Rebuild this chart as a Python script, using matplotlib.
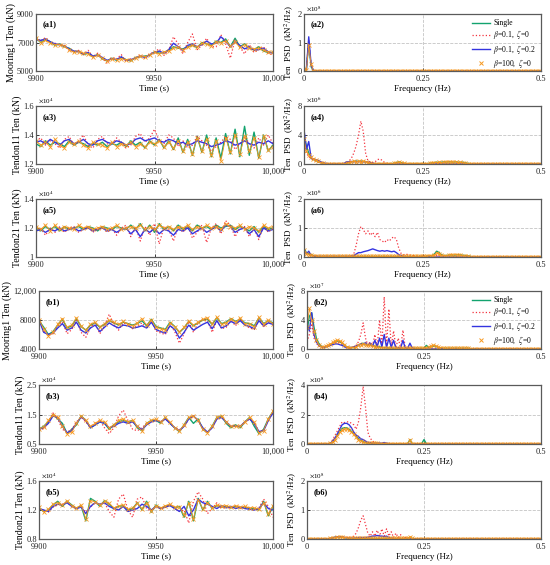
import matplotlib
matplotlib.use("Agg")
import matplotlib.pyplot as plt
from matplotlib.lines import Line2D
import numpy as np

plt.rcParams['font.family'] = 'Liberation Serif'
plt.rcParams['mathtext.fontset'] = 'stix'

# ---- time histories (every ~2 s) ----
a1_single = [7300, 7000, 7200, 7050, 6800, 6900, 6700, 6600, 6350, 6400, 6150, 6250, 6000, 6150, 5850, 5700, 5900, 5750, 5950, 5800,
             5700, 5950, 6000, 6050, 6100, 6350, 6250, 6300, 6450, 6700, 6600, 6550, 6700, 6800, 6650, 7000, 6900, 6800, 7100, 7000,
             7250, 6700, 7300, 6700, 6900, 6600, 6500, 6700, 6400, 6300, 6300]
a1_b01z0 = [7350, 7100, 7350, 7000, 6950, 6800, 6800, 6450, 6350, 6450, 6150, 6450, 6000, 6250, 5900, 5550, 5950, 5850, 6150, 5650,
            5850, 5900, 6150, 5850, 6200, 6350, 6550, 6100, 6450, 7400, 6900, 6200, 7000, 7600, 6500, 6800, 7300, 6700, 6700, 7550,
            6900, 5900, 7200, 6700, 6200, 6850, 6300, 6500, 6700, 6200, 6150]
a1_b01z02 = [7200, 7150, 7250, 7050, 6900, 6850, 6750, 6550, 6400, 6350, 6200, 6300, 6050, 6100, 5950, 5750, 5850, 5800, 6000, 5750,
             5800, 5900, 6050, 5950, 6150, 6300, 6400, 6250, 6500, 6950, 6700, 6450, 6800, 6900, 6700, 6850, 7100, 6900, 6950, 7400,
             7100, 6700, 7050, 6800, 6550, 6700, 6450, 6500, 6600, 6350, 6250]
a1_b100 = [7350, 7000, 7150, 6950, 6850, 6850, 6750, 6500, 6300, 6350, 6250, 6200, 5950, 6100, 5900, 5700, 5850, 5800, 5850, 5800,
           5750, 5900, 6050, 6000, 6150, 6300, 6200, 6350, 6400, 6600, 6650, 6500, 6650, 6800, 6700, 6950, 6900, 6750, 7050, 7000,
           7100, 6750, 7050, 6650, 6850, 6600, 6550, 6600, 6450, 6350, 6300]

a3_single = [1.34, 1.32, 1.36, 1.33, 1.35, 1.34, 1.32, 1.36, 1.33, 1.35, 1.34, 1.32, 1.34, 1.33, 1.35, 1.32, 1.34, 1.33, 1.35, 1.32,
             1.36, 1.33, 1.35, 1.31, 1.36, 1.33, 1.37, 1.31, 1.36, 1.30, 1.38, 1.28, 1.37, 1.26, 1.39, 1.28, 1.40, 1.25, 1.38, 1.24,
             1.41, 1.27, 1.44, 1.25, 1.46, 1.26, 1.42, 1.24, 1.40, 1.29, 1.33]
a3_b01z0 = [1.36, 1.38, 1.33, 1.36, 1.34, 1.31, 1.37, 1.39, 1.33, 1.36, 1.40, 1.33, 1.31, 1.37, 1.39, 1.34, 1.33, 1.38, 1.35, 1.31,
            1.33, 1.39, 1.41, 1.35, 1.38, 1.44, 1.36, 1.34, 1.40, 1.38, 1.32, 1.36, 1.31, 1.33, 1.39, 1.36, 1.33, 1.29, 1.32, 1.35,
            1.39, 1.37, 1.30, 1.34, 1.39, 1.34, 1.31, 1.38, 1.33, 1.40, 1.34]
a3_b01z02 = [1.35, 1.36, 1.34, 1.37, 1.35, 1.33, 1.36, 1.37, 1.34, 1.35, 1.37, 1.34, 1.33, 1.36, 1.37, 1.35, 1.34, 1.36, 1.35, 1.33,
             1.34, 1.37, 1.38, 1.36, 1.37, 1.38, 1.36, 1.35, 1.37, 1.36, 1.34, 1.35, 1.33, 1.34, 1.36, 1.35, 1.34, 1.32, 1.33, 1.34,
             1.36, 1.35, 1.33, 1.34, 1.36, 1.34, 1.33, 1.35, 1.34, 1.36, 1.34]
a3_b100 = [1.36, 1.33, 1.35, 1.32, 1.37, 1.33, 1.31, 1.35, 1.34, 1.36, 1.33, 1.31, 1.35, 1.34, 1.33, 1.31, 1.35, 1.32, 1.34, 1.33,
           1.35, 1.32, 1.34, 1.32, 1.35, 1.34, 1.36, 1.32, 1.35, 1.31, 1.36, 1.29, 1.35, 1.27, 1.38, 1.29, 1.37, 1.26, 1.36, 1.22,
           1.38, 1.28, 1.40, 1.27, 1.39, 1.29, 1.38, 1.25, 1.39, 1.30, 1.32]

a5_single = [1.20, 1.18, 1.21, 1.19, 1.21, 1.18, 1.21, 1.19, 1.20, 1.21, 1.19, 1.21, 1.20, 1.18, 1.21, 1.20, 1.19, 1.21, 1.20, 1.19,
             1.22, 1.19, 1.23, 1.18, 1.22, 1.17, 1.23, 1.19, 1.21, 1.18, 1.22, 1.19, 1.21, 1.18, 1.22, 1.20, 1.21, 1.19, 1.22, 1.20,
             1.21, 1.22, 1.19, 1.21, 1.20, 1.18, 1.21, 1.17, 1.21, 1.19, 1.20]
a5_b01z0 = [1.17, 1.20, 1.15, 1.20, 1.17, 1.21, 1.17, 1.20, 1.21, 1.17, 1.19, 1.21, 1.17, 1.20, 1.21, 1.17, 1.20, 1.15, 1.20, 1.22,
            1.14, 1.21, 1.11, 1.21, 1.15, 1.23, 1.09, 1.21, 1.19, 1.11, 1.21, 1.17, 1.22, 1.13, 1.17, 1.22, 1.10, 1.20, 1.23, 1.16,
            1.25, 1.22, 1.14, 1.20, 1.21, 1.14, 1.20, 1.12, 1.22, 1.17, 1.20]
a5_b01z02 = [1.18, 1.19, 1.17, 1.19, 1.18, 1.20, 1.18, 1.19, 1.20, 1.18, 1.19, 1.20, 1.18, 1.19, 1.20, 1.18, 1.19, 1.17, 1.19, 1.20,
             1.16, 1.19, 1.14, 1.19, 1.17, 1.20, 1.16, 1.19, 1.18, 1.15, 1.19, 1.18, 1.20, 1.16, 1.18, 1.20, 1.17, 1.19, 1.21, 1.18,
             1.22, 1.21, 1.17, 1.19, 1.20, 1.16, 1.19, 1.14, 1.20, 1.18, 1.19]
a5_b100 = [1.21, 1.19, 1.22, 1.18, 1.22, 1.19, 1.21, 1.20, 1.19, 1.22, 1.20, 1.21, 1.19, 1.20, 1.21, 1.19, 1.20, 1.22, 1.19, 1.20,
           1.21, 1.20, 1.22, 1.19, 1.21, 1.19, 1.22, 1.20, 1.21, 1.19, 1.21, 1.20, 1.22, 1.19, 1.21, 1.20, 1.22, 1.20, 1.21, 1.19,
           1.23, 1.21, 1.20, 1.22, 1.19, 1.21, 1.20, 1.18, 1.22, 1.20, 1.21]

b1_single = [7900, 7000, 6000, 6400, 7300, 8100, 6900, 7200, 8200, 7100, 6600, 7300, 7600, 7000, 7400, 7900, 7600, 7300, 7700, 7500,
             7300, 7500, 7900, 7200, 8100, 7100, 6900, 6700, 7700, 7100, 6300, 6900, 7800, 7200, 7600, 8000, 8100, 7400, 8300, 7500,
             7700, 8200, 7800, 8100, 7600, 7500, 7200, 8300, 7500, 7900, 7600]
b1_b01z0 = [8100, 6500, 5900, 6100, 7200, 7800, 6100, 6700, 8000, 6300, 5600, 7000, 7600, 6100, 7200, 8800, 7400, 6600, 7600, 7400,
            6800, 7200, 7600, 6800, 7900, 6500, 6200, 6000, 7400, 6400, 4800, 6100, 7800, 6300, 7600, 8100, 7900, 6300, 8000, 6800,
            7000, 8000, 7200, 8200, 7300, 6900, 6700, 8100, 7100, 7700, 7500]
b1_b01z02 = [8000, 6300, 6000, 6200, 6900, 7500, 6600, 6900, 7700, 6600, 6200, 6900, 7300, 6400, 7000, 7600, 7200, 6900, 7300, 7200,
             6900, 7000, 7200, 6900, 7700, 6700, 6400, 6200, 7200, 6700, 5500, 6300, 7300, 6600, 7000, 7400, 7700, 6800, 7900, 6900,
             7200, 7800, 7500, 7900, 7300, 7100, 6800, 7900, 7200, 7600, 7400]
b1_b100 = [8000, 6800, 5800, 6300, 7400, 8200, 7000, 7300, 8300, 7200, 6600, 7400, 7700, 7100, 7500, 8000, 7700, 7400, 7800, 7400,
           7200, 7600, 8200, 7300, 8000, 7000, 6800, 6600, 7600, 7100, 6400, 7000, 7900, 7300, 7700, 8100, 8300, 7500, 8400, 7400,
           7600, 8200, 7700, 8300, 7500, 7400, 7100, 8400, 7400, 8000, 7500]

b3_single = [1.00, 1.10, 1.25, 1.50, 1.35, 1.20, 0.85, 1.00, 1.15, 1.45, 1.30, 1.05, 1.15, 1.25, 1.20, 1.00, 1.15, 1.25, 1.30, 1.25,
             1.30, 1.05, 0.95, 1.20, 1.30, 1.30, 1.20, 1.40, 1.20, 1.05, 0.92, 1.15, 1.40, 1.20, 1.35, 1.00, 0.88, 1.10, 1.40, 1.45,
             1.20, 1.05, 1.15, 1.05, 1.25, 1.40, 1.10, 0.85, 1.00, 1.35, 1.60]
b3_b01z0 = [1.05, 1.00, 1.25, 1.55, 1.35, 1.00, 0.90, 1.00, 1.25, 1.40, 1.25, 1.05, 1.20, 1.30, 1.05, 0.85, 1.05, 1.45, 1.65, 1.30,
            1.00, 0.95, 1.05, 1.20, 1.25, 1.30, 1.25, 1.35, 1.20, 1.05, 0.98, 1.10, 1.35, 1.45, 1.30, 1.00, 0.88, 1.05, 1.35, 1.40,
            1.25, 1.10, 1.10, 1.10, 1.25, 1.35, 1.20, 0.92, 0.95, 1.30, 1.60]
b3_b01z02 = [1.00, 1.05, 1.20, 1.45, 1.40, 1.10, 0.88, 0.95, 1.20, 1.42, 1.30, 1.05, 1.15, 1.25, 1.20, 1.05, 1.10, 1.20, 1.25, 1.20,
             1.25, 1.10, 0.98, 1.15, 1.25, 1.30, 1.25, 1.35, 1.20, 1.05, 0.95, 1.10, 1.35, 1.45, 1.30, 1.05, 0.90, 1.05, 1.35, 1.40,
             1.25, 1.10, 1.10, 1.10, 1.25, 1.35, 1.20, 0.92, 0.95, 1.30, 1.55]
b3_b100 = [1.00, 1.08, 1.30, 1.50, 1.40, 1.10, 0.85, 0.90, 1.20, 1.45, 1.30, 1.10, 1.20, 1.30, 1.25, 1.05, 1.15, 1.30, 1.35, 1.25,
           1.30, 1.10, 0.95, 1.20, 1.30, 1.35, 1.25, 1.40, 1.25, 1.05, 0.95, 1.15, 1.40, 1.45, 1.30, 1.00, 0.88, 1.10, 1.40, 1.45,
           1.25, 1.10, 1.10, 1.10, 1.25, 1.40, 1.25, 0.88, 0.95, 1.35, 1.62]

b5_single = [1.23, 1.18, 1.20, 1.27, 1.32, 1.25, 1.32, 1.27, 1.22, 1.26, 1.05, 1.36, 1.32, 1.25, 1.33, 1.28, 1.22, 1.25, 1.26, 1.20,
             1.22, 1.30, 1.20, 1.32, 1.17, 1.27, 1.22, 1.25, 1.27, 1.23, 1.25, 1.10, 1.32, 1.05, 1.36, 1.20, 1.32, 1.22, 1.26, 1.24,
             1.25, 1.23, 1.25, 1.23, 1.24, 1.22, 1.22, 1.20, 1.32, 1.12, 1.25]
b5_b01z0 = [1.22, 1.20, 1.17, 1.24, 1.27, 1.28, 1.30, 1.26, 1.22, 1.25, 1.17, 1.24, 1.30, 1.27, 1.30, 1.18, 1.10, 1.35, 1.42, 1.20,
            1.10, 1.35, 1.38, 1.22, 1.18, 1.25, 1.22, 1.24, 1.27, 1.22, 1.18, 1.20, 1.02, 1.32, 1.45, 1.35, 1.15, 1.22, 1.30, 1.22,
            1.25, 1.22, 1.26, 1.22, 1.24, 1.22, 1.20, 1.23, 1.35, 1.25, 1.10]
b5_b01z02 = [1.22, 1.20, 1.18, 1.25, 1.28, 1.27, 1.30, 1.25, 1.22, 1.24, 1.15, 1.25, 1.30, 1.28, 1.30, 1.25, 1.22, 1.20, 1.25, 1.18,
             1.20, 1.22, 1.28, 1.25, 1.20, 1.25, 1.22, 1.24, 1.26, 1.22, 1.18, 1.25, 1.12, 1.20, 1.35, 1.30, 1.28, 1.25, 1.22, 1.26,
             1.23, 1.25, 1.22, 1.24, 1.22, 1.21, 1.20, 1.22, 1.30, 1.22, 1.20]
b5_b100 = [1.24, 1.17, 1.21, 1.28, 1.30, 1.27, 1.33, 1.26, 1.23, 1.27, 1.08, 1.33, 1.31, 1.27, 1.32, 1.29, 1.23, 1.26, 1.27, 1.21,
           1.23, 1.29, 1.22, 1.30, 1.19, 1.26, 1.23, 1.26, 1.28, 1.24, 1.24, 1.13, 1.30, 1.08, 1.34, 1.22, 1.30, 1.23, 1.27, 1.25,
           1.26, 1.24, 1.26, 1.24, 1.25, 1.23, 1.23, 1.21, 1.30, 1.15, 1.26]

# ---- PSD (0.005 Hz steps from 0 Hz, zero beyond the listed values) ----
a2_single = [0.06, 0.04, 1.00, 0.15, 0.01]
a2_b01z0 = [0.07, 0.05, 1.10, 0.20, 0.02]
a2_b01z02 = [0.08, 0.05, 1.20, 0.22, 0.02]
a2_b100 = [0.08, 0.05, 0.90, 0.25, 0.01]

a4_single = [4.0, 2.5, 1.5, 0.8, 0.6, 0.5, 0.3, 0.2, 0.1, 0.05, 0.02, 0.02, 0.02, 0.02, 0.02, 0.02, 0.02, 0.05, 0.1, 0.2,
             0.3, 0.35, 0.4, 0.35, 0.4, 0.35, 0.3, 0.2, 0.1, 0.05, 0.05, 0.05, 0.05, 0.05, 0.05, 0.05, 0.05, 0.05, 0.1, 0.2,
             0.3, 0.2, 0.1, 0.05, 0.05, 0.05, 0.05, 0.05, 0.05, 0.05, 0.05, 0.05, 0.05, 0.1, 0.15, 0.2, 0.25, 0.2, 0.25, 0.3,
             0.25, 0.3, 0.3, 0.25, 0.3, 0.25, 0.2, 0.25, 0.15, 0.1, 0.05]
a4_b01z0 = [4.0, 1.5, 1.0, 0.8, 0.5, 0.4, 0.3, 0.2, 0.1, 0.05, 0.05, 0.05, 0.05, 0.05, 0.05, 0.05, 0.05, 0.05, 0.15, 0.4,
            0.8, 1.5, 2.5, 4.0, 5.9, 4.5, 1.5, 0.4, 0.3, 0.2, 0.3, 0.6, 0.7, 0.5, 0.2, 0.1, 0.05, 0.05, 0.05, 0.1,
            0.15, 0.1, 0.05]
a4_b01z02 = [4.8, 2.0, 3.1, 0.8, 0.7, 0.6, 0.5, 0.3, 0.2, 0.1, 0.05, 0.05, 0.05, 0.05, 0.05, 0.05, 0.05, 0.1, 0.3, 0.3,
             0.35, 0.3, 0.35, 0.3, 0.35, 0.3, 0.3, 0.25, 0.2, 0.1, 0.05]
a4_b100 = [3.5, 1.8, 1.2, 0.9, 0.7, 0.5, 0.35, 0.2, 0.1, 0.05, 0.02, 0.02, 0.02, 0.02, 0.02, 0.02, 0.02, 0.05, 0.1, 0.2,
           0.3, 0.35, 0.3, 0.35, 0.3, 0.35, 0.3, 0.2, 0.1, 0.05, 0.05, 0.05, 0.05, 0.05, 0.05, 0.05, 0.05, 0.05, 0.1, 0.15,
           0.25, 0.15, 0.1, 0.05, 0.05, 0.05, 0.05, 0.05, 0.05, 0.05, 0.05, 0.05, 0.05, 0.1, 0.15, 0.2, 0.2, 0.25, 0.2, 0.25,
           0.3, 0.25, 0.3, 0.25, 0.3, 0.2, 0.25, 0.2, 0.1, 0.05, 0.05]

a6_single = [0.3, 0.15, 0.1, 0.08, 0.05, 0.03, 0.02, 0.02, 0.02, 0.02, 0.02, 0.02, 0.02, 0.02, 0.02, 0.02, 0.02, 0.02, 0.02, 0.02,
             0.02, 0.02, 0.02, 0.02, 0.02, 0.02, 0.02, 0.02, 0.02, 0.02, 0.02, 0.02, 0.02, 0.02, 0.02, 0.02, 0.02, 0.02, 0.02, 0.02,
             0.02, 0.02, 0.02, 0.02, 0.02, 0.02, 0.02, 0.02, 0.02, 0.02, 0.02, 0.02, 0.03, 0.04, 0.05, 0.1, 0.2, 0.15, 0.08, 0.05,
             0.05, 0.06, 0.07, 0.06, 0.07, 0.08, 0.07, 0.06, 0.05, 0.04, 0.03]
a6_b01z0 = [0.2, 0.1, 0.08, 0.05, 0.05, 0.03, 0.02, 0.02, 0.02, 0.02, 0.02, 0.02, 0.02, 0.02, 0.02, 0.02, 0.02, 0.02, 0.02, 0.02,
            0.02, 0.1, 0.4, 0.8, 1.05, 0.95, 0.8, 0.9, 0.75, 0.85, 0.7, 0.85, 0.6, 0.55, 0.5, 0.6, 0.55, 0.65, 0.7, 0.6,
            0.3, 0.12, 0.08, 0.1, 0.08, 0.06, 0.05, 0.03, 0.03, 0.03, 0.03, 0.03, 0.03, 0.03, 0.03, 0.04, 0.05, 0.05, 0.03]
a6_b01z02 = [0.25, 0.1, 0.2, 0.05, 0.03, 0.02, 0.02, 0.02, 0.02, 0.02, 0.02, 0.02, 0.02, 0.02, 0.02, 0.02, 0.02, 0.02, 0.02, 0.02,
             0.03, 0.05, 0.1, 0.15, 0.15, 0.18, 0.2, 0.22, 0.25, 0.28, 0.25, 0.22, 0.2, 0.22, 0.2, 0.22, 0.2, 0.18, 0.2, 0.15,
             0.08, 0.05, 0.03]
a6_b100 = [0.25, 0.12, 0.08, 0.06, 0.04, 0.03, 0.02, 0.02, 0.02, 0.02, 0.02, 0.02, 0.02, 0.02, 0.02, 0.02, 0.02, 0.02, 0.02, 0.02,
           0.02, 0.02, 0.02, 0.02, 0.02, 0.02, 0.02, 0.02, 0.02, 0.02, 0.02, 0.02, 0.02, 0.02, 0.02, 0.02, 0.02, 0.02, 0.02, 0.02,
           0.02, 0.02, 0.02, 0.02, 0.02, 0.02, 0.02, 0.02, 0.02, 0.02, 0.02, 0.02, 0.03, 0.04, 0.05, 0.08, 0.15, 0.12, 0.06, 0.05,
           0.05, 0.06, 0.08, 0.07, 0.08, 0.07, 0.06, 0.05, 0.04, 0.03]

b2_single = [2.5, 4.5, 5.0, 3.0, 1.5, 0.8, 0.4, 0.3, 0.3, 0.4, 0.6, 0.8, 1.0, 1.1, 1.0, 0.8, 0.5, 0.3, 0.2, 0.2,
             0.2, 0.3, 0.5, 0.7, 0.8, 0.6, 0.5, 0.6, 0.5, 0.4, 0.3, 0.3, 0.2, 0.2, 0.15, 0.15, 0.1, 0.1, 0.1, 0.1,
             0.1, 0.1, 0.1, 0.1, 0.1, 0.1, 0.1, 0.1, 0.1, 0.1, 0.1, 0.5, 0.2, 0.3, 0.4, 0.4, 0.2, 0.15, 0.1, 0.1,
             0.1, 0.1, 0.1, 0.1, 0.1, 0.1, 0.1, 0.1, 0.1, 0.1, 0.05]
b2_b01z0 = [1.0, 2.0, 3.5, 1.5, 0.8, 0.4, 0.3, 0.3, 0.4, 0.5, 0.6, 0.8, 0.9, 0.9, 0.8, 0.6, 0.4, 0.2, 0.1, 0.2,
            0.3, 0.5, 1.0, 2.0, 3.6, 1.5, 0.5, 1.0, 0.4, 2.0, 0.3, 4.0, 0.5, 7.2, 0.5, 5.5, 0.3, 2.5, 0.2, 1.5,
            0.1, 2.6, 0.1, 0.2, 0.1, 0.1, 0.05]
b2_b01z02 = [3.5, 2.5, 5.0, 2.0, 1.0, 0.5, 0.3, 0.2, 0.3, 0.4, 0.5, 0.6, 0.7, 0.7, 0.6, 0.5, 0.3, 0.2, 0.2, 0.2,
             0.3, 0.4, 0.5, 0.7, 0.6, 0.9, 0.5, 0.8, 0.4, 1.2, 0.3, 1.5, 0.3, 2.0, 0.2, 1.5, 0.2, 1.2, 0.1, 0.2,
             0.1, 1.2, 0.1, 0.1, 0.8, 0.1, 0.05]
b2_b100 = [3.0, 5.6, 4.0, 2.5, 1.2, 0.6, 0.3, 0.3, 0.4, 0.5, 0.7, 0.9, 1.1, 1.2, 1.1, 0.9, 0.6, 0.3, 0.2, 0.2,
           0.2, 0.3, 0.5, 0.6, 0.7, 0.6, 0.5, 0.5, 0.4, 0.3, 0.25, 0.2, 0.2, 0.15, 0.15, 0.1, 0.1, 0.1, 0.1, 0.1,
           0.1, 0.1, 0.1, 0.1, 0.1, 0.1, 0.1, 0.1, 0.1, 0.1, 0.1, 0.2, 0.3, 0.4, 0.5, 0.4, 0.3, 0.2, 0.15, 0.1,
           0.1, 0.1, 0.1, 0.1, 0.1, 0.1, 0.1, 0.1, 0.1, 0.1, 0.05]

b4_single = [0.0, 0.0, 0.0, 0.0, 0.0, 0.0, 0.0, 0.0, 0.0, 0.0, 0.05, 0.15, 0.35, 0.6, 0.85, 1.05, 1.1, 1.1, 1.0, 0.85,
             0.7, 0.5, 0.35, 0.25, 0.15, 0.1, 0.05, 0.05, 0.05, 0.05, 0.05, 0.03, 0.03, 0.03, 0.03, 0.02, 0.02, 0.02, 0.02, 0.02,
             0.02, 0.02, 0.02, 0.02, 0.3, 0.02, 0.02, 0.02, 0.02, 0.02, 0.3, 0.02]
b4_b01z0 = [0.0, 0.0, 0.0, 0.0, 0.0, 0.0, 0.0, 0.0, 0.0, 0.0, 0.05, 0.3, 0.6, 0.9, 1.2, 1.5, 1.45, 1.5, 1.5, 1.4,
            1.3, 1.0, 1.5, 2.5, 3.9, 2.5, 0.8, 0.4, 0.2, 0.1, 0.05, 0.05, 0.05, 0.05, 0.03, 0.03, 0.02]
b4_b01z02 = [0.0, 0.0, 0.0, 0.0, 0.0, 0.0, 0.0, 0.0, 0.0, 0.0, 0.05, 0.2, 0.4, 0.7, 1.0, 1.3, 1.4, 1.4, 1.3, 1.1,
             0.8, 0.6, 0.5, 0.35, 0.3, 0.2, 0.1, 0.1, 0.05, 0.05, 0.05, 0.05, 0.05, 0.1, 0.05, 0.03, 0.02]
b4_b100 = [0.0, 0.0, 0.0, 0.0, 0.0, 0.0, 0.0, 0.0, 0.0, 0.0, 0.05, 0.12, 0.3, 0.55, 0.8, 0.95, 1.0, 1.0, 0.95, 0.8,
           0.65, 0.45, 0.3, 0.2, 0.12, 0.08, 0.05, 0.05, 0.05, 0.05, 0.05, 0.03, 0.03, 0.03, 0.03, 0.02, 0.02, 0.02, 0.02, 0.02,
           0.02, 0.02, 0.02, 0.02, 0.3, 0.02]

b6_single = [0.0, 0.0, 0.0, 0.0, 0.0, 0.0, 0.0, 0.0, 0.0, 0.0, 0.02, 0.04, 0.06, 0.07, 0.07, 0.06, 0.05, 0.04, 0.03, 0.02,
             0.02, 0.02, 0.02, 0.02, 0.02, 0.02, 0.02, 0.02, 0.02, 0.02, 0.02, 0.02, 0.02, 0.02, 0.02, 0.02, 0.02, 0.02, 0.02, 0.02,
             0.02, 0.02, 0.02, 0.02, 0.05, 0.02]
b6_b01z0 = [0.0, 0.0, 0.0, 0.0, 0.0, 0.0, 0.0, 0.0, 0.0, 0.0, 0.02, 0.04, 0.06, 0.08, 0.08, 0.08, 0.07, 0.06, 0.05, 0.06,
            0.1, 0.2, 0.4, 0.65, 0.8, 0.5, 0.2, 0.1, 0.25, 0.1, 0.3, 0.1, 0.35, 0.1, 0.35, 0.1, 0.25, 0.05, 0.2, 0.05,
            0.15, 0.03, 0.05, 0.02]
b6_b01z02 = [0.0, 0.0, 0.0, 0.0, 0.0, 0.0, 0.0, 0.0, 0.0, 0.0, 0.02, 0.04, 0.06, 0.08, 0.08, 0.07, 0.05, 0.04, 0.03, 0.03,
             0.03, 0.04, 0.05, 0.05, 0.05, 0.05, 0.06, 0.08, 0.1, 0.1, 0.12, 0.1, 0.1, 0.08, 0.1, 0.05, 0.03, 0.02]
b6_b100 = [0.0, 0.0, 0.0, 0.0, 0.0, 0.0, 0.0, 0.0, 0.0, 0.0, 0.02, 0.03, 0.05, 0.06, 0.07, 0.06, 0.05, 0.04, 0.03, 0.02,
           0.02, 0.02, 0.02, 0.02, 0.02, 0.02, 0.02, 0.02, 0.02, 0.02, 0.02, 0.02, 0.02, 0.02, 0.02, 0.02, 0.02, 0.02, 0.02, 0.02,
           0.02, 0.02, 0.02, 0.02, 0.08, 0.02]

labels = ['Single', r'$\beta$=0.1,  $\zeta$=0', r'$\beta$=0.1,  $\zeta$=0.2', r'$\beta$=100,  $\zeta$=0']
c_green = '#12a36e'
c_red = '#f4333f'
c_blue = '#3434e0'
c_orange = '#f7981f'

freq = np.linspace(0, 0.5, 101)

fig = plt.figure(figsize=(5.5, 5.65), dpi=100)
W, H = 550.0, 565.0

def axes_px(x0, top, x1, bottom):
    return fig.add_axes([x0 / W, 1 - bottom / H, (x1 - x0) / W, (bottom - top) / H])

def style(ax, tag, xlim, xticks, xtl, ylim, yticks, ytl, xlabel, ylabel, ylsize, expo=None):
    ax.set_xlim(xlim)
    ax.set_ylim(ylim)
    ax.set_xticks(xticks)
    ax.set_xticklabels(xtl)
    ax.set_yticks(yticks)
    ax.set_yticklabels(ytl)
    ax.tick_params(direction='in', length=2, width=0.6, labelsize=6, colors='#222222')
    ax.tick_params(axis='x', pad=3)
    ax.tick_params(axis='y', pad=1.5)
    for s in ax.spines.values():
        s.set_color('#5a5a5a')
        s.set_linewidth(0.9)
    ax.grid(True, linestyle='--', color='#c4c4c4', linewidth=0.6)
    ax.set_axisbelow(True)
    ax.set_xlabel(xlabel, fontsize=6.5, labelpad=1)
    ax.set_ylabel(ylabel, fontsize=ylsize, labelpad=1)
    ax.text(0.03, 0.78, tag, transform=ax.transAxes, fontsize=6, fontweight='bold')
    if expo:
        ax.text(0.01, 1.015, r'$\times$10$^{%d}$' % expo, transform=ax.transAxes, fontsize=5, va='bottom')

def draw_series(ax, x_of, series, ms=2.6):
    s, r, b, o = series
    ax.plot(x_of(s), s, color=c_green, lw=1.0)
    ax.plot(x_of(r), r, color=c_red, lw=0.9, ls=':')
    ax.plot(x_of(b), b, color=c_blue, lw=1.0)
    ax.plot(x_of(o), o, color=c_orange, lw=0.6, marker='x', ms=ms, mew=0.6)

def t_of(v):
    return np.linspace(9900, 10000, len(v))

def psd(v):
    return np.array(v + [0.0] * (len(freq) - len(v)))

def f_of(v):
    return freq

tx = [9900, 9950, 10000]
txl = ['9900', '9950', '10,000']
fx = [0, 0.25, 0.5]
fxl = ['0', '0.25', '0.5']
psd_lab = r'Ten  PSD  (kN$^2$/Hz)'

rows = [(14, 71), (106, 164), (199, 257), (291, 349), (385, 444), (481, 539)]

time_panels = [
    ('(a1)', (a1_single, a1_b01z0, a1_b01z02, a1_b100), (5000, 9000), [5000, 7000, 9000], ['5000', '7000', '9000'], 'Mooring1 Ten (kN)', None, 36),
    ('(a3)', (a3_single, a3_b01z0, a3_b01z02, a3_b100), (1.2, 1.6), [1.2, 1.4, 1.6], ['1.2', '1.4', '1.6'], 'Tendon11 Ten (kN)', 4, 36),
    ('(a5)', (a5_single, a5_b01z0, a5_b01z02, a5_b100), (1.0, 1.4), [1.0, 1.2, 1.4], ['1', '1.2', '1.4'], 'Tendon21 Ten (kN)', 4, 36),
    ('(b1)', (b1_single, b1_b01z0, b1_b01z02, b1_b100), (4000, 12000), [4000, 8000, 12000], ['4000', '8000', '12,000'], 'Mooring1 Ten (kN)', None, 39),
    ('(b3)', (b3_single, b3_b01z0, b3_b01z02, b3_b100), (0.5, 2.5), [0.5, 1.5, 2.5], ['0.5', '1.5', '2.5'], 'Tendon11 Ten (kN)', 4, 39),
    ('(b5)', (b5_single, b5_b01z0, b5_b01z02, b5_b100), (0.8, 1.6), [0.8, 1.2, 1.6], ['0.8', '1.2', '1.6'], 'Tendon21 Ten (kN)', 4, 39),
]

psd_panels = [
    ('(a2)', (a2_single, a2_b01z0, a2_b01z02, a2_b100), (0, 2), [0, 1, 2], ['0', '1', '2'], 8, 304, True),
    ('(a4)', (a4_single, a4_b01z0, a4_b01z02, a4_b100), (0, 8), [0, 4, 8], ['0', '4', '8'], 6, 304, False),
    ('(a6)', (a6_single, a6_b01z0, a6_b01z02, a6_b100), (0, 2), [0, 1, 2], ['0', '1', '2'], 6, 304, False),
    ('(b2)', (b2_single, b2_b01z0, b2_b01z02, b2_b100), (0, 8), [0, 4, 8], ['0', '4', '8'], 7, 307, True),
    ('(b4)', (b4_single, b4_b01z0, b4_b01z02, b4_b100), (0, 4), [0, 2, 4], ['0', '2', '4'], 8, 307, False),
    ('(b6)', (b6_single, b6_b01z0, b6_b01z02, b6_b100), (0, 2), [0, 1, 2], ['0', '1', '2'], 8, 307, False),
]

for (top, bot), (tag, series, ylim, yt, ytl, ylab, expo, x0) in zip(rows, time_panels):
    ax = axes_px(x0, top, 273, bot)
    draw_series(ax, t_of, series)
    style(ax, tag, (9900, 10000), tx, txl, ylim, yt, ytl, 'Time (s)', ylab, 7.2, expo)

for (top, bot), (tag, series, ylim, yt, ytl, expo, x0, leg) in zip(rows, psd_panels):
    ax = axes_px(x0, top, 541, bot)
    draw_series(ax, f_of, [psd(v) for v in series], ms=2.4)
    style(ax, tag, (0, 0.5), fx, fxl, ylim, yt, ytl, 'Frequency (Hz)', psd_lab, 6.5, expo)
    if leg:
        handles = [Line2D([], [], color=c_green, lw=1.0),
                   Line2D([], [], color=c_red, lw=0.9, ls=':'),
                   Line2D([], [], color=c_blue, lw=1.0),
                   Line2D([], [], color=c_orange, ls='none', marker='x', ms=2.6, mew=0.7)]
        ax.legend(handles, labels, loc='upper right', fontsize=5.5, frameon=False,
                  handlelength=2.4, labelspacing=0.15, borderaxespad=0.3, handletextpad=0.4)

fig.savefig('out.png', dpi=100)
